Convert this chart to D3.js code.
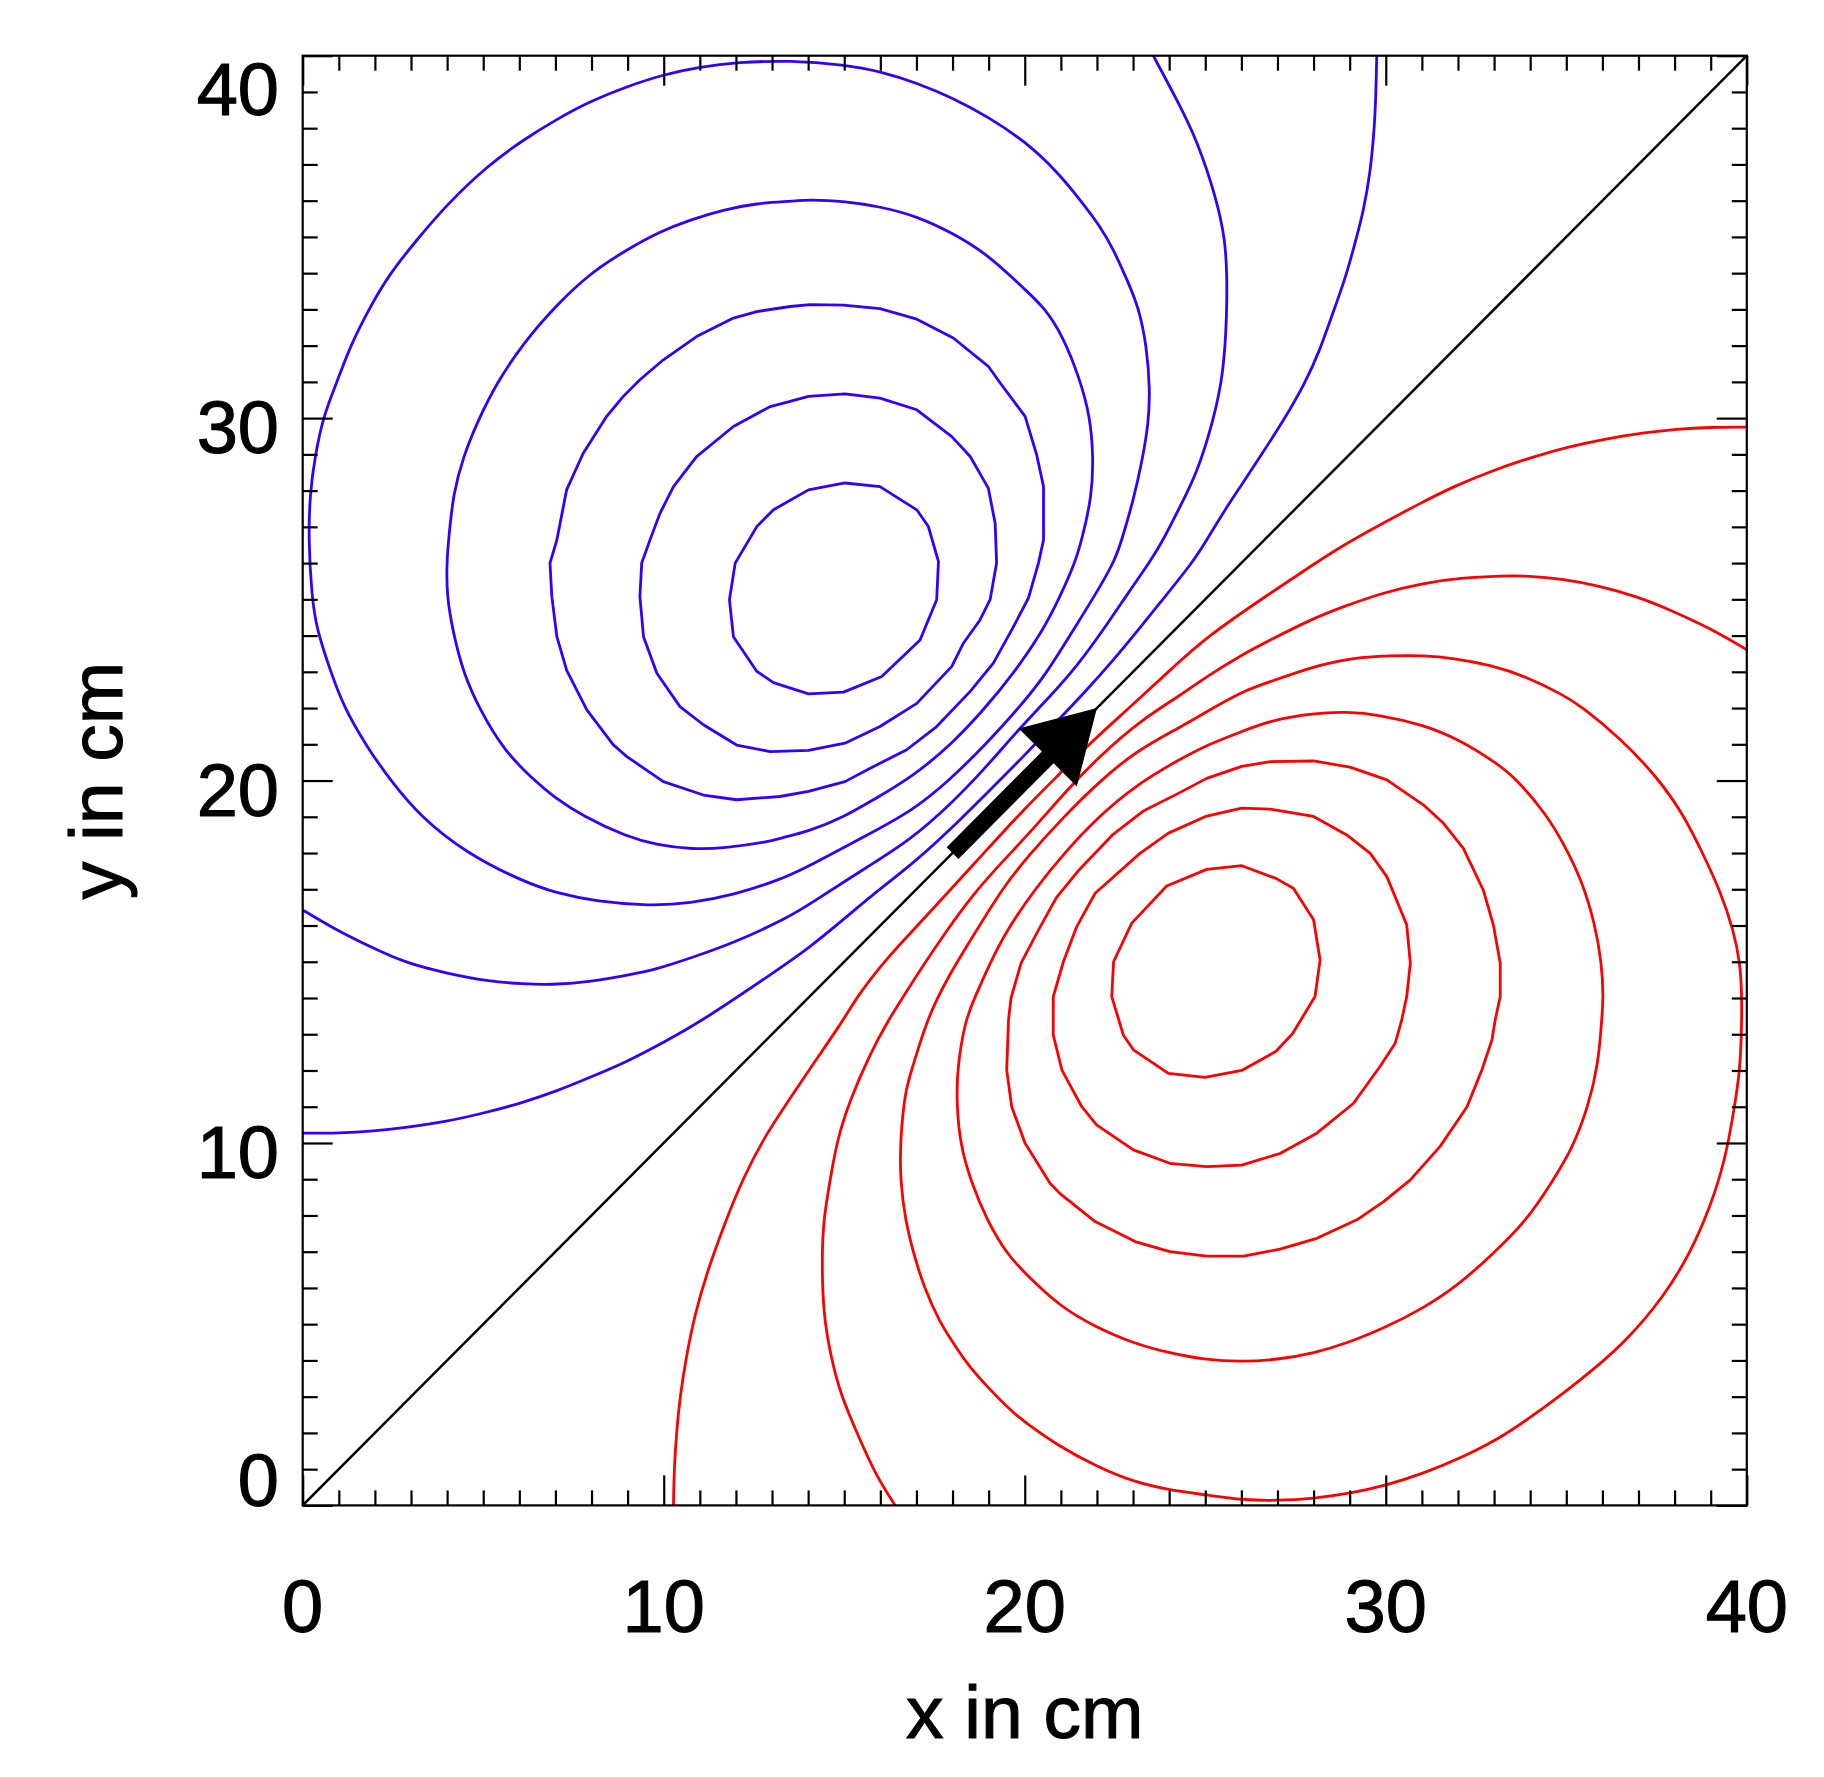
<!DOCTYPE html>
<html>
<head>
<meta charset="utf-8">
<script src="https://d3js.org/d3.v7.min.js"></script>
<style>
  body { margin: 0; background: #fff; }
  svg { display: block; }
  text { font-family: "Liberation Sans", Arial, Helvetica, sans-serif; fill: #000; stroke: #000; stroke-width: 1.1; }
</style>
</head>
<body>
<div id="chart"></div>
<script>
// axis setup
var xDomain = [0, 40],
    yDomain = [0, 40],
    majorTicks = [0, 10, 20, 30, 40],
    majorLabels = ['0', '10', '20', '30', '40'],
    minorStep = 1;

var xTitle = 'x in cm',
    yTitle = 'y in cm';

// contour lines, points are [x, y] in cm
// blue side (upper left), innermost first
var blue1 = [[15.02,28.21],[15.99,28.11],[17.01,27.47],[17.33,27.01],[17.61,26.04],[17.56,24.99],[17.10,23.88],[16.04,22.87],[14.98,22.44],[14.01,22.39],[13.04,22.70],[12.58,23.01],[11.93,23.97],[11.82,24.99],[11.98,26.00],[12.58,27.01],[13.04,27.47],[14.01,28.02]];

var blue2 = [[14.01,30.60],[15.02,30.67],[15.99,30.55],[17.01,30.23],[17.98,29.49],[18.49,28.94],[18.99,28.07],[19.18,27.10],[19.22,26.00],[19.04,24.99],[18.76,24.43],[18.30,23.79],[17.98,23.15],[17.01,22.13],[15.99,21.49],[15.02,21.03],[14.01,20.83],[12.95,20.80],[12.02,20.98],[11.10,21.54],[10.45,22.04],[9.81,22.96],[9.44,23.97],[9.34,25.08],[9.39,26.00],[9.62,26.64],[9.90,27.38],[10.27,28.11],[10.91,28.94],[11.93,29.77],[12.95,30.32],[13.50,30.46]];

var blue3 = [[14.05,33.13],[14.98,33.12],[15.99,33.02],[17.01,32.73],[18.02,32.21],[18.99,31.43],[19.32,30.97],[20.01,30.05],[20.33,28.99],[20.52,28.11],[20.52,26.64],[20.38,26.00],[20.10,25.03],[19.64,24.16],[19.13,23.24],[18.49,22.46],[17.56,21.49],[16.73,20.85],[15.72,20.34],[15.02,19.97],[14.01,19.70],[13.22,19.56],[12.02,19.47],[11.10,19.60],[9.99,19.97],[8.98,20.66],[8.61,20.98],[7.87,21.95],[7.31,23.05],[7.04,23.97],[6.90,25.08],[6.85,26.00],[7.04,26.64],[7.31,28.02],[7.77,29.03],[8.42,30.05],[8.88,30.60],[9.34,31.06],[9.99,31.61],[10.91,32.25],[11.93,32.76],[12.58,32.94],[13.50,33.08]];

var blue4 = [[3.99,26.00],[4.04,26.64],[4.17,27.93],[4.45,28.94],[4.82,29.86],[5.37,30.97],[6.11,32.07],[7.04,33.13],[7.96,34.00],[8.98,34.65],[9.90,35.15],[10.73,35.47],[11.65,35.75],[12.58,35.93],[13.50,35.98],[14.05,36.03],[15.02,35.98],[15.99,35.84],[17.01,35.57],[17.98,35.12],[18.99,34.51],[20.01,33.54],[20.52,33.08],[21.07,32.25],[21.53,31.06],[21.81,30.05],[21.90,28.94],[21.86,27.84],[21.58,26.64],[21.39,26.00],[20.98,25.08],[20.52,24.16],[19.69,22.95],[18.86,21.95],[18.02,21.05],[16.92,20.12],[15.72,19.42],[15.02,19.01],[14.01,18.59],[13.22,18.41],[12.95,18.32],[11.65,18.13],[10.82,18.10],[9.81,18.22],[8.98,18.45],[7.77,19.01],[6.94,19.56],[6.39,20.02],[5.56,20.85],[4.91,21.95],[4.45,22.96],[4.17,24.07],[3.99,25.08]];

var blue5 = [[0.25,25.08],[0.16,26.64],[0.20,27.93],[0.34,28.94],[0.57,30.05],[0.94,30.97],[1.31,31.98],[1.87,33.08],[2.42,34.00],[3.16,34.92],[3.99,35.89],[5.10,36.95],[6.11,37.68],[7.04,38.25],[7.96,38.74],[8.98,39.15],[9.99,39.48],[11.01,39.69],[12.02,39.82],[13.50,39.87],[15.02,39.75],[15.99,39.57],[17.01,39.25],[18.02,38.83],[18.99,38.31],[20.01,37.64],[20.89,36.81],[21.53,36.03],[22.09,35.29],[22.46,34.65],[22.83,33.82],[23.15,33.08],[23.38,31.98],[23.47,30.78],[23.43,29.86],[23.24,28.76],[23.01,27.75],[22.69,26.64],[22.50,26.09],[22.09,25.35],[21.35,24.16],[20.61,22.96],[19.87,22.04],[18.95,21.03],[17.93,20.02],[16.92,19.19],[15.72,18.54],[14.01,17.63],[13.22,17.26],[11.93,16.84],[10.73,16.61],[9.62,16.54],[8.14,16.66],[7.04,16.89],[6.11,17.21],[4.54,17.99],[3.25,19.01],[2.42,20.02],[1.77,20.94],[1.13,22.04],[0.76,23.05],[0.39,24.16]];

var blue6 = [[0,16.43],[0.85,15.92],[1.96,15.37],[2.88,14.96],[3.99,14.68],[5.19,14.45],[6.11,14.39],[6.85,14.36],[7.96,14.45],[8.88,14.61],[9.81,14.79],[10.73,15.10],[11.93,15.51],[13.50,16.25],[14.01,16.57],[15.72,17.67],[16.82,18.36],[17.93,19.33],[18.86,20.29],[19.82,21.40],[20.70,22.32],[21.44,23.15],[22.18,24.16],[22.92,25.26],[23.47,26.04],[23.84,26.64],[24.30,27.56],[24.77,28.48],[25.23,29.95],[25.51,31.24],[25.60,32.90],[25.60,34.00],[25.55,34.92],[25.32,36.03],[24.77,37.68],[24.21,38.79],[23.56,40.0]];

var blue7 = [[0,10.27],[1.03,10.27],[1.96,10.33],[2.88,10.43],[3.99,10.59],[5.00,10.82],[6.02,11.09],[7.04,11.43],[7.96,11.81],[8.98,12.24],[9.99,12.77],[11.10,13.39],[13.22,14.82],[14.01,15.37],[15.02,16.20],[15.72,16.80],[16.92,17.72],[17.93,18.64],[18.95,19.65],[19.96,20.66],[20.89,21.63],[21.72,22.50],[22.46,23.33],[23.15,24.16],[23.66,24.80],[24.67,26.04],[25.04,26.64],[25.50,27.40],[26.00,28.15],[26.52,28.94],[27.15,29.90],[27.77,30.97],[28.18,31.89],[28.50,32.81],[28.87,33.82],[29.15,34.83],[29.39,35.75],[29.57,36.76],[29.69,38.05],[29.73,39.06],[29.75,40.0]];

// red side (lower right), innermost first
var red1 = [[25.04,17.55],[26.01,17.65],[26.96,17.30],[27.44,17.03],[28.00,16.16],[28.18,15.05],[28.04,14.04],[27.42,13.02],[26.96,12.53],[26.01,12.00],[24.99,11.81],[23.98,11.92],[23.01,12.57],[22.73,12.98],[22.41,14.04],[22.46,15.00],[22.96,16.06],[23.93,17.09]];

var red2 = [[20.79,13.39],[20.79,12.98],[21.03,12.01],[21.58,11.00],[21.99,10.50],[23.01,9.81],[24.02,9.44],[25.04,9.35],[26.01,9.39],[27.07,9.71],[28.09,10.27],[29.10,11.09],[29.84,12.11],[30.26,12.75],[30.44,13.39],[30.58,14.04],[30.68,14.96],[30.58,16.02],[30.03,17.35],[29.57,17.99],[28.92,18.50],[28.00,19.01],[26.80,19.21],[26.01,19.24],[25.04,19.02],[23.98,18.55],[23.19,17.99],[21.95,16.89],[21.44,15.97],[21.07,15.00],[20.79,14.04]];

var red3 = [[19.55,13.39],[19.50,12.01],[19.64,11.00],[20.01,9.99],[20.70,8.89],[20.97,8.61],[21.95,7.83],[23.06,7.28],[24.02,7.00],[25.04,6.88],[26.06,6.88],[27.07,7.07],[28.09,7.37],[29.20,7.88],[29.94,8.38],[30.68,8.98],[31.50,9.90],[32.25,11.00],[32.66,12.01],[32.94,12.84],[33.03,13.39],[33.17,14.04],[33.17,14.96],[32.98,16.02],[32.70,16.98],[32.15,18.13],[31.60,18.82],[31.04,19.33],[30.03,20.02],[29.01,20.37],[28.00,20.54],[26.80,20.52],[26.01,20.39],[25.04,20.06],[24.28,19.66],[23.27,19.15],[22.44,18.51],[21.51,17.54],[20.87,16.76],[20.36,15.84],[19.90,14.97],[19.62,14.00]];

var red4 = [[18.35,13.39],[18.12,12.01],[18.12,11.00],[18.21,9.99],[18.49,8.98],[18.95,7.87],[19.50,6.95],[19.96,6.45],[20.98,5.48],[21.95,4.93],[23.01,4.47],[24.02,4.20],[25.04,4.01],[26.01,3.96],[27.07,4.03],[28.00,4.20],[28.92,4.47],[30.03,4.93],[30.95,5.39],[31.97,6.04],[32.98,6.95],[33.91,7.87],[34.64,8.98],[35.15,9.81],[35.61,11.00],[35.89,12.20],[35.98,13.39],[36.03,14.04],[35.98,14.96],[35.80,16.02],[35.43,17.26],[34.92,18.27],[34.46,19.05],[33.63,20.04],[33.07,20.48],[32.06,21.12],[31.04,21.54],[29.84,21.81],[28.92,21.90],[28.00,21.86],[26.80,21.66],[26.01,21.35],[25.04,20.98],[24.28,20.58],[23.08,19.88],[21.98,18.95],[21.14,18.05],[20.31,17.05],[19.48,15.84],[19.02,14.92],[18.61,14.00]];

var red5 = [[17.28,13.39],[16.87,12.01],[16.69,11.46],[16.55,10.08],[16.55,8.98],[16.69,7.87],[16.92,6.95],[17.20,6.04],[17.66,5.02],[18.03,4.47],[18.39,3.92],[18.95,3.28],[19.69,2.54],[20.06,2.26],[20.89,1.67],[21.99,1.07],[23.01,0.65],[24.02,0.42],[25.04,0.29],[26.01,0.15],[27.00,0.13],[28.00,0.19],[29.01,0.33],[30.03,0.56],[31.04,0.88],[32.06,1.30],[33.07,1.80],[33.91,2.36],[34.92,3.09],[35.85,3.83],[36.68,4.56],[37.70,5.76],[38.43,6.95],[38.99,8.24],[39.40,9.53],[39.63,10.82],[39.82,12.01],[39.86,13.39],[39.86,14.04],[39.82,14.96],[39.63,15.88],[39.27,16.94],[38.80,17.95],[38.25,19.06],[37.51,20.11],[36.49,21.17],[35.43,22.04],[34.92,22.36],[33.90,22.87],[32.89,23.19],[31.87,23.38],[31.04,23.45],[30.12,23.45],[29.01,23.38],[28.00,23.15],[26.80,22.73],[26.01,22.46],[25.04,21.90],[24.28,21.46],[23.08,20.81],[22.07,19.98],[21.05,18.97],[20.13,17.96],[19.39,17.04],[18.65,15.84],[17.85,14.55]];

var red6 = [[16.41,0],[15.90,0.79],[15.44,1.80],[14.88,3.09],[14.61,4.20],[14.42,5.30],[14.38,6.77],[14.42,7.87],[14.61,8.98],[14.80,10.08],[15.16,11.19],[15.72,12.47],[16.22,13.39],[16.64,14.04],[17.10,14.77],[17.82,15.84],[18.56,16.85],[19.30,17.68],[20.18,18.60],[21.14,19.71],[22.07,20.67],[23.18,21.64],[24.28,22.33],[25.04,22.87],[26.01,23.47],[26.80,23.88],[28.00,24.48],[28.83,24.80],[29.94,25.19],[31.04,25.45],[32.06,25.59],[33.26,25.65],[33.91,25.65],[34.92,25.56],[35.94,25.37],[36.95,25.08],[37.88,24.71],[38.99,24.20],[40.0,23.61]];

var red7 = [[10.27,0],[10.29,1.07],[10.36,2.08],[10.45,3.00],[10.64,4.20],[10.87,5.30],[11.19,6.40],[11.65,7.69],[12.21,9.07],[12.85,10.27],[13.50,11.23],[14.15,12.20],[14.98,13.39],[15.35,14.04],[16.18,15.10],[16.92,15.88],[17.93,16.98],[18.95,18.09],[19.96,19.19],[20.98,20.20],[21.81,21.03],[22.73,21.86],[24.03,23.05],[25.04,23.97],[26.80,25.17],[27.90,25.90],[28.83,26.50],[29.75,27.01],[30.95,27.65],[31.87,28.11],[32.89,28.53],[34.09,28.94],[35.11,29.22],[36.03,29.42],[37.14,29.60],[38.06,29.70],[38.98,29.75],[40.0,29.75]];

// zero level and the dipole arrow
var zeroLine = [[0,0],[40,40]];
var arrowTail = [18, 18],
    arrowTip = [22, 22];

// inner rings keep their grid corners, outer lines are smoothed
var innerBlue = [blue1, blue2, blue3],
    outerBlue = [blue4, blue5],
    openBlue = [blue6, blue7],
    innerRed = [red1, red2, red3],
    outerRed = [red4, red5],
    openRed = [red6, red7];

(function () {
    'use strict';

    var width = 1824,
        height = 1777;

    var plot = { left: 302.7, right: 1746.8, top: 55.7, bottom: 1505.4 };

    var blue = '#3300ff',
        red = '#ff0000';

    var x = d3.scaleLinear().domain(xDomain).range([plot.left, plot.right]);
    var y = d3.scaleLinear().domain(yDomain).range([plot.bottom, plot.top]);

    var svg = d3.select('#chart')
        .append('svg')
        .attr('width', width)
        .attr('height', height);

    svg.append('rect')
        .attr('width', width)
        .attr('height', height)
        .attr('fill', '#fff');

    svg.append('clipPath')
        .attr('id', 'plot-clip')
        .append('rect')
        .attr('x', plot.left)
        .attr('y', plot.top)
        .attr('width', plot.right - plot.left)
        .attr('height', plot.bottom - plot.top);

    function makeLine(curve) {
        return d3.line()
            .x(function (d) { return x(d[0]); })
            .y(function (d) { return y(d[1]); })
            .curve(curve);
    }

    var ringLine = makeLine(d3.curveLinearClosed),
        smoothRing = makeLine(d3.curveBasisClosed),
        smoothOpen = makeLine(d3.curveBasis),
        straight = makeLine(d3.curveLinear);

    var contours = svg.append('g')
        .attr('clip-path', 'url(#plot-clip)')
        .attr('fill', 'none')
        .attr('stroke-width', 2.8)
        .attr('stroke-linejoin', 'round');

    function drawSet(sets, gen, color) {
        contours.selectAll(null)
            .data(sets)
            .enter()
            .append('path')
            .attr('d', gen)
            .attr('stroke', color);
    }

    drawSet(innerBlue, ringLine, blue);
    drawSet(outerBlue, smoothRing, blue);
    drawSet(openBlue, smoothOpen, blue);
    drawSet(innerRed, ringLine, red);
    drawSet(outerRed, smoothRing, red);
    drawSet(openRed, smoothOpen, red);

    contours.append('path')
        .attr('d', straight(zeroLine))
        .attr('stroke', '#000')
        .attr('stroke-width', 2.5);

    // arrow, built in pixel space from the scaled end points
    var p0 = [x(arrowTail[0]), y(arrowTail[1])],
        p1 = [x(arrowTip[0]), y(arrowTip[1])];
    var dx = p1[0] - p0[0],
        dy = p1[1] - p0[1],
        len = Math.sqrt(dx * dx + dy * dy);
    var ux = dx / len, uy = dy / len,
        nx = -uy, ny = ux;
    var headLen = 69.7,
        headHalf = 41,
        bodyHalf = 8.3;
    var bx = p1[0] - ux * headLen,
        by = p1[1] - uy * headLen;

    var arrowPts = [
        [p0[0] + nx * bodyHalf, p0[1] + ny * bodyHalf],
        [bx + nx * bodyHalf, by + ny * bodyHalf],
        [bx + nx * headHalf, by + ny * headHalf],
        p1,
        [bx - nx * headHalf, by - ny * headHalf],
        [bx - nx * bodyHalf, by - ny * bodyHalf],
        [p0[0] - nx * bodyHalf, p0[1] - ny * bodyHalf]
    ];

    svg.append('polygon')
        .attr('points', arrowPts.map(function (p) { return p.join(','); }).join(' '))
        .attr('fill', '#000');

    // ticks on all four sides, pointing inwards
    var minorTicks = d3.range(xDomain[0], xDomain[1] + minorStep / 2, minorStep)
        .filter(function (v) { return majorTicks.indexOf(v) < 0; });

    function addAxis(axisFn, scale, values, size, tx, ty) {
        var g = svg.append('g')
            .attr('transform', 'translate(' + tx + ',' + ty + ')')
            .call(axisFn(scale).tickValues(values).tickSize(-size).tickFormat(''));
        g.select('.domain').remove();
        g.selectAll('line').attr('stroke', '#000').attr('stroke-width', 2.2);
    }

    [[minorTicks, 15], [majorTicks, 30]].forEach(function (t) {
        addAxis(d3.axisBottom, x, t[0], t[1], 0, plot.bottom);
        addAxis(d3.axisTop, x, t[0], t[1], 0, plot.top);
        addAxis(d3.axisLeft, y, t[0], t[1], plot.left, 0);
        addAxis(d3.axisRight, y, t[0], t[1], plot.right, 0);
    });

    svg.append('rect')
        .attr('x', plot.left)
        .attr('y', plot.top)
        .attr('width', plot.right - plot.left)
        .attr('height', plot.bottom - plot.top)
        .attr('fill', 'none')
        .attr('stroke', '#000')
        .attr('stroke-width', 2.2);

    // tick labels
    svg.append('g')
        .selectAll('text')
        .data(majorTicks)
        .enter()
        .append('text')
        .attr('x', function (d) { return x(d); })
        .attr('y', 1632)
        .attr('text-anchor', 'middle')
        .attr('font-size', 74)
        .text(function (d, i) { return majorLabels[i]; });

    // end labels are kept inside the frame
    svg.append('g')
        .selectAll('text')
        .data(majorTicks)
        .enter()
        .append('text')
        .attr('x', 279)
        .attr('y', function (d) {
            return Math.max(plot.top + 59, Math.min(plot.bottom + 1, y(d) + 35));
        })
        .attr('text-anchor', 'end')
        .attr('font-size', 74)
        .text(function (d, i) { return majorLabels[i]; });

    // axis titles
    svg.append('text')
        .attr('x', x(20))
        .attr('y', 1738)
        .attr('text-anchor', 'middle')
        .attr('font-size', 75)
        .text(xTitle);

    svg.append('text')
        .attr('transform', 'translate(122,' + y(20) + ') rotate(-90)')
        .attr('text-anchor', 'middle')
        .attr('font-size', 75)
        .text(yTitle);
}());
</script>
</body>
</html>
